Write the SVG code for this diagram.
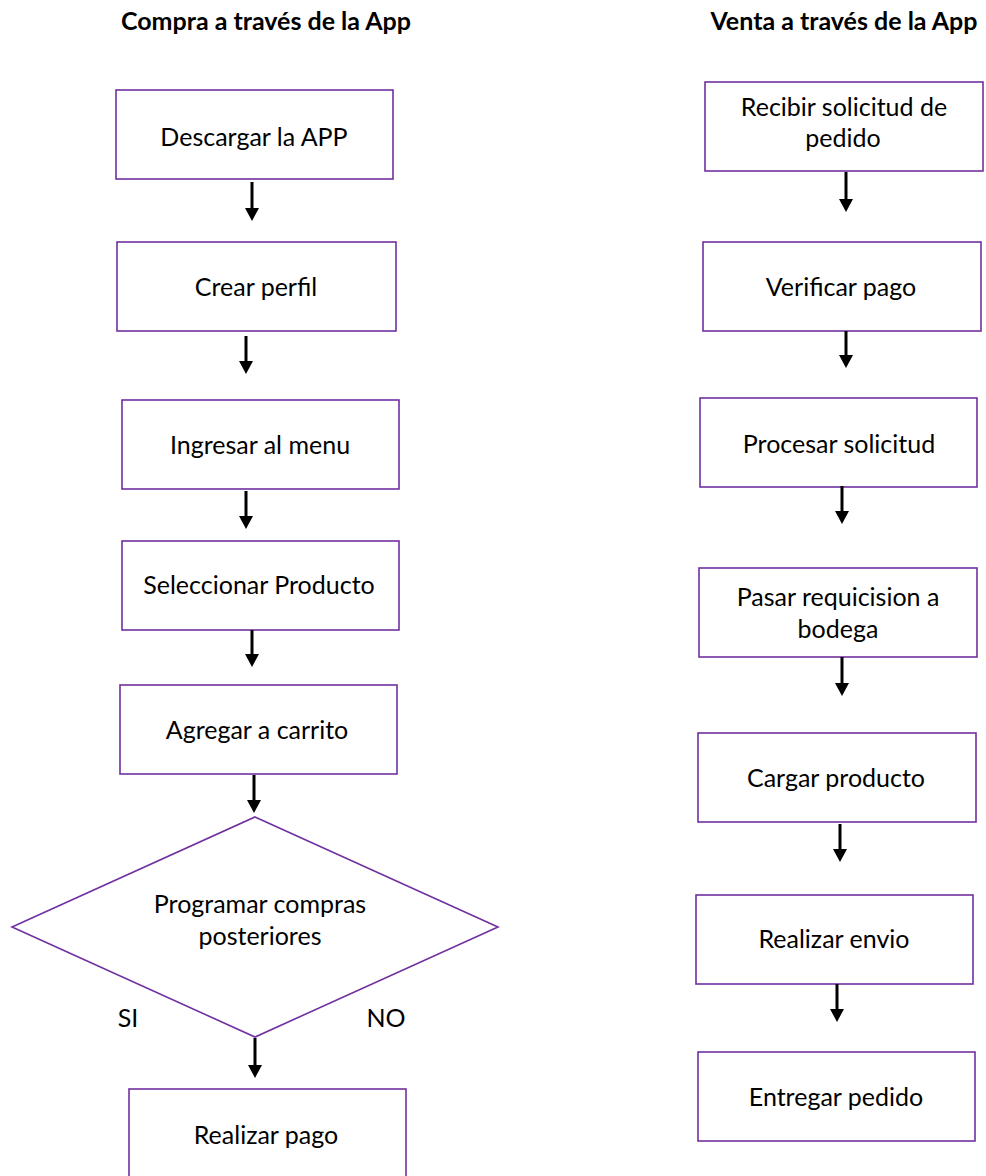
<svg xmlns="http://www.w3.org/2000/svg" width="986" height="1176" viewBox="0 0 986 1176">
<defs>
<style>
.box{fill:#fff;stroke:#7030A0;stroke-width:1.6}
.t{font-family:Lato,"Liberation Sans",sans-serif;font-size:25px;fill:#000;text-anchor:middle}
.h{font-family:Lato,"Liberation Sans",sans-serif;font-size:25px;font-weight:bold;fill:#000;text-anchor:middle}
.c line{stroke:#000;stroke-width:3;marker-end:url(#ah)}
</style>
<marker id="ah" markerWidth="13" markerHeight="14" refX="5" refY="7" orient="auto" markerUnits="userSpaceOnUse"><path d="M0,0 L13,7 L0,14 z" fill="#000"/></marker>
</defs>
<rect width="986" height="1176" fill="#fff"/>
<text class="h" x="266" y="30">Compra a través de la App</text>
<text class="h" x="844" y="30">Venta a través de la App</text>

<g id="n1"><rect class="box" x="116" y="90" width="277" height="89"/><text class="t" x="254" y="146">Descargar la APP</text></g>
<g id="n2"><rect class="box" x="117" y="242" width="279" height="89"/><text class="t" x="256" y="296">Crear perfil</text></g>
<g id="n3"><rect class="box" x="122" y="400" width="277" height="89"/><text class="t" x="260" y="454">Ingresar al menu</text></g>
<g id="n4"><rect class="box" x="122" y="541" width="277" height="89"/><text class="t" x="259" y="594">Seleccionar Producto</text></g>
<g id="n5"><rect class="box" x="120" y="685" width="277" height="89"/><text class="t" x="257" y="739">Agregar a carrito</text></g>
<g id="n6"><polygon class="box" points="255,817 498,927 255,1037 12,927"/><text class="t" x="260" y="913">Programar compras</text><text class="t" x="260" y="945">posteriores</text></g>
<g id="n7"><rect class="box" x="129" y="1089" width="277" height="92"/><text class="t" x="266" y="1144">Realizar pago</text></g>

<g id="m1"><rect class="box" x="705" y="82" width="278" height="89"/><text class="t" x="844" y="116">Recibir solicitud de</text><text class="t" x="843" y="147">pedido</text></g>
<g id="m2"><rect class="box" x="703" y="242" width="278" height="89"/><text class="t" x="841" y="296">Verificar pago</text></g>
<g id="m3"><rect class="box" x="700" y="398" width="277" height="89"/><text class="t" x="839" y="453">Procesar solicitud</text></g>
<g id="m4"><rect class="box" x="699" y="568" width="278" height="89"/><text class="t" x="838" y="606">Pasar requicision a</text><text class="t" x="838" y="638">bodega</text></g>
<g id="m5"><rect class="box" x="698" y="733" width="278" height="89"/><text class="t" x="836" y="787">Cargar producto</text></g>
<g id="m6"><rect class="box" x="696" y="895" width="277" height="89"/><text class="t" x="834" y="948">Realizar envio</text></g>
<g id="m7"><rect class="box" x="698" y="1052" width="277" height="89"/><text class="t" x="836" y="1106">Entregar pedido</text></g>

<g id="si"><text class="t" x="128" y="1027">SI</text></g>
<g id="no"><text class="t" x="386" y="1027">NO</text></g>

<g id="connectors" class="c">
<line x1="252" y1="182" x2="252" y2="213"/>
<line x1="246" y1="336" x2="246" y2="366"/>
<line x1="246" y1="491" x2="246" y2="521"/>
<line x1="252" y1="630" x2="252" y2="659"/>
<line x1="254" y1="775" x2="254" y2="805"/>
<line x1="255" y1="1038" x2="255" y2="1070"/>
<line x1="846" y1="172" x2="846" y2="204"/>
<line x1="846" y1="331" x2="846" y2="360"/>
<line x1="842" y1="486" x2="842" y2="516"/>
<line x1="842" y1="657" x2="842" y2="688"/>
<line x1="840" y1="824" x2="840" y2="854"/>
<line x1="837" y1="984" x2="837" y2="1014"/>
</g>
</svg>
